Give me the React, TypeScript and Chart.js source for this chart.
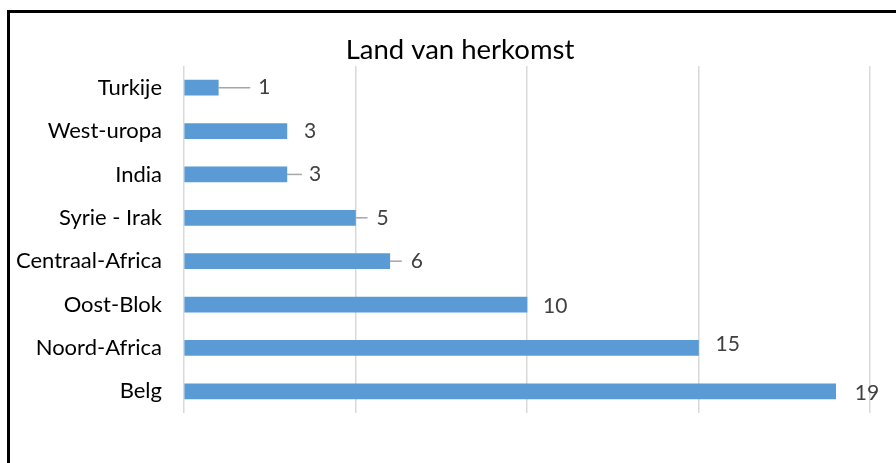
import React, { useEffect, useRef } from "react";
import { Chart, registerables } from "chart.js";

Chart.register(...registerables);

const chartTitle = "Land van herkomst";
const categories = [
  "Turkije",
  "West-uropa",
  "India",
  "Syrie - Irak",
  "Centraal-Africa",
  "Oost-Blok",
  "Noord-Africa",
  "Belg",
];
const counts = [1, 3, 3, 5, 6, 10, 15, 19];
const xTicksMax = 20;
const xTickStep = 5;

// label placement (style): text offset from bar end, vertical offset, leader-line length
const labelPlacement = [
  { dx: 40, dy: 0, leader: 32 },
  { dx: 17, dy: 0, leader: 0 },
  { dx: 22, dy: 0, leader: 15 },
  { dx: 21, dy: 0, leader: 12 },
  { dx: 21, dy: 0, leader: 12 },
  { dx: 16, dy: 2, leader: 0 },
  { dx: 17, dy: -4, leader: 0 },
  { dx: 19, dy: 2, leader: 0 },
];

const FONT = "Lato, 'Open Sans', sans-serif";

const overlayPlugin = {
  id: "overlay",
  afterDraw(chart: any) {
    const ctx = chart.ctx;
    ctx.save();
    // outer frame
    ctx.strokeStyle = "#000";
    ctx.lineWidth = 3;
    ctx.beginPath();
    ctx.moveTo(8.5, 470);
    ctx.lineTo(8.5, 11.5);
    ctx.lineTo(905, 11.5);
    ctx.stroke();
    // title
    ctx.fillStyle = "#000";
    ctx.font = `27.5px ${FONT}`;
    ctx.textAlign = "center";
    ctx.textBaseline = "middle";
    ctx.fillText(chartTitle, 460, 50);
    // data labels
    const meta = chart.getDatasetMeta(0);
    ctx.font = `21px ${FONT}`;
    ctx.textAlign = "left";
    meta.data.forEach((bar: any, i: number) => {
      const p = labelPlacement[i];
      const x = bar.x;
      const y = bar.y;
      if (p.leader > 0) {
        ctx.strokeStyle = "#a6a6a6";
        ctx.lineWidth = 1.5;
        ctx.beginPath();
        ctx.moveTo(x, y);
        ctx.lineTo(x + p.leader, y);
        ctx.stroke();
      }
      ctx.fillStyle = "#404040";
      ctx.fillText(String(counts[i]), x + p.dx, y + p.dy);
    });
    ctx.restore();
  },
};

export default function App() {
  const ref = useRef<HTMLCanvasElement>(null);
  useEffect(() => {
    if (!ref.current) return;
    const chart = new Chart(ref.current, {
      type: "bar",
      data: {
        labels: categories,
        datasets: [
          {
            data: counts,
            backgroundColor: "#5b9bd5",
            barThickness: 15,
          },
        ],
      },
      options: {
        indexAxis: "y",
        responsive: false,
        animation: false,
        layout: { padding: { top: 66, bottom: 50, left: 0, right: 26 } },
        plugins: {
          legend: { display: false },
          title: { display: false },
          tooltip: { enabled: false },
        },
        scales: {
          x: {
            min: 0,
            max: xTicksMax,
            ticks: { display: false, stepSize: xTickStep },
            grid: { color: "#d9d9d9", lineWidth: 1.5, drawTicks: false },
            border: { display: false },
            afterFit(scale: any) {
              scale.height = 0;
            },
          },
          y: {
            grid: { display: false, drawTicks: false },
            border: { display: false },
            ticks: {
              color: "#000",
              padding: 22,
              font: { family: FONT, size: 22 },
            },
            afterFit(scale: any) {
              scale.width = 184;
            },
          },
        },
      },
      plugins: [overlayPlugin],
    });
    return () => chart.destroy();
  }, []);
  return (
    <div style={{ position: "fixed", left: 0, top: 0, width: 896, height: 463, background: "#fff" }}>
      <canvas ref={ref} width={896} height={463} />
    </div>
  );
}
